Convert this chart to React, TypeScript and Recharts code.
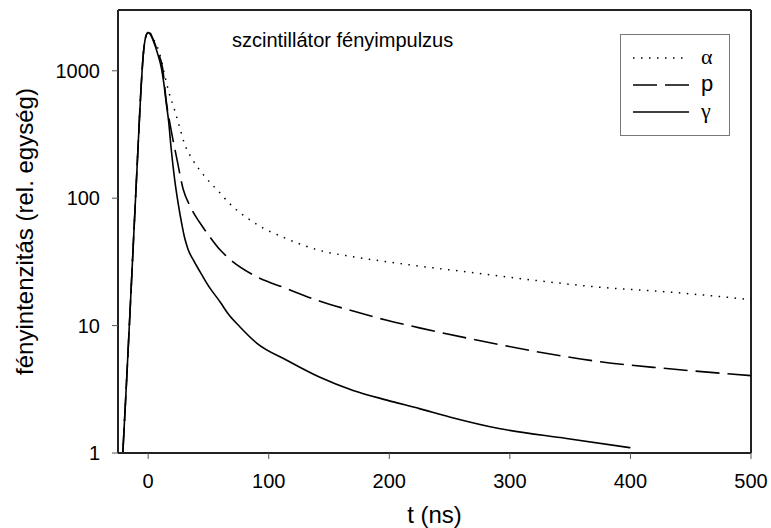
import React from "react";
import { LineChart, Line, XAxis, YAxis, ReferenceLine, Legend } from "recharts";

// shared rising edge (ns, rel. units)
const riseT = [-21, -18, -15, -12, -9, -6, -4, -2];
const riseI = [1, 3.5, 13, 50, 190, 700, 1350, 1850];

// decay parts
const alphaT = [0, 2, 4, 9, 14, 17, 22, 26, 30, 37, 47, 60, 66, 87, 115, 142, 170, 198, 225, 264, 320, 375, 430, 500];
const alphaI = [2000, 1950, 1800, 1415, 900, 690, 490, 365, 270, 200, 148, 109, 94, 65, 48, 39, 34.7, 31.7, 29.3, 26.4, 22.7, 20, 18.4, 16];

const protonT = [0, 2, 4, 8, 12, 15, 19, 24, 29, 35, 45, 51, 60, 65, 87, 115, 142, 170, 198, 225, 264, 320, 375, 430, 500];
const protonI = [2000, 1950, 1780, 1400, 1050, 580, 345, 200, 118, 86, 60, 50, 39, 35, 25, 19.5, 15.6, 13, 11, 9.6, 8, 6.3, 5.2, 4.6, 4.05];

const gammaT = [0, 2, 4, 8, 11, 13, 15, 17, 19, 22, 25, 28, 30, 33, 38, 43, 50, 60, 66, 76, 90, 115, 142, 170, 198, 225, 250, 292, 347, 400];
const gammaI = [2000, 1920, 1750, 1350, 1050, 800, 560, 400, 250, 140, 90, 62, 50, 40, 32, 26.5, 20.5, 15.2, 12.5, 9.8, 7.3, 5.35, 3.95, 3.1, 2.6, 2.23, 1.92, 1.55, 1.3, 1.1];

const xTicks = [0, 100, 200, 300, 400, 500];
const yTicks = [1, 10, 100, 1000];
const legendNames = ["α", "p", "γ"];

const build = (t: number[], v: number[]) => [
  ...riseT.map((x, i) => ({ t: x, v: riseI[i] })),
  ...t.map((x, i) => ({ t: x, v: v[i] })),
];

const series = [
  { key: "alpha", name: legendNames[0], data: build(alphaT, alphaI), dash: "1.5 6.5", width: 1.5, serif: true },
  { key: "proton", name: legendNames[1], data: build(protonT, protonI), dash: "24 8", width: 1.6, serif: false },
  { key: "gamma", name: legendNames[2], data: build(gammaT, gammaI), dash: undefined, width: 1.6, serif: true },
];

const SANS = '"Liberation Sans", Arial, sans-serif';
const SERIF = '"Liberation Serif", "Times New Roman", serif';

const LegendBox = () => (
  <div style={{ width: 110, height: 102, border: "1px solid #777", boxSizing: "border-box", background: "#fff" }}>
    <svg width={108} height={100}>
      {series.map((s, i) => {
        const y = 23 + i * 27;
        return (
          <g key={s.key}>
            <line x1={12} x2={68} y1={y} y2={y} stroke="#000" strokeWidth={s.width} strokeDasharray={s.dash} />
            <text x={80} y={y + 6} fontSize={22} fontFamily={s.serif ? SERIF : SANS} fill="#000">
              {s.name}
            </text>
          </g>
        );
      })}
    </svg>
  </div>
);

export default function App() {
  return (
    <div style={{ position: "absolute", left: 0, top: 0, width: 771, height: 528, background: "#fff", fontFamily: SANS }}>
      <LineChart width={771} height={528} margin={{ top: 10, right: 20, bottom: 0, left: 0 }}>
        <XAxis
          type="number"
          dataKey="t"
          domain={[-25, 500]}
          ticks={xTicks}
          allowDataOverflow
          height={75}
          tickSize={6}
          tickMargin={15}
          axisLine={{ stroke: "#222", strokeWidth: 2 }}
          tickLine={{ stroke: "#555" }}
          tick={{ fontSize: 20, fill: "#000", fontFamily: SANS }}
          label={() => (
            <text x={434.5} y={523} textAnchor="middle" fontSize={24} fontFamily={SANS} fill="#000">
              t (ns)
            </text>
          )}
        />
        <YAxis
          type="number"
          scale="log"
          domain={[1, 3000]}
          ticks={yTicks}
          allowDataOverflow
          width={118}
          tickSize={6}
          tickMargin={12}
          axisLine={{ stroke: "#222", strokeWidth: 2 }}
          tickLine={{ stroke: "#555" }}
          tick={{ fontSize: 20, fill: "#000", fontFamily: SANS }}
          label={() => (
            <text
              x={33}
              y={231.5}
              textAnchor="middle"
              fontSize={24}
              fontFamily={SANS}
              fill="#000"
              transform="rotate(-90 33 231.5)"
            >
              fényintenzitás (rel. egység)
            </text>
          )}
        />
        <ReferenceLine
          y={3000}
          stroke="#222"
          strokeWidth={2}
          label={() => (
            <text x={232} y={47} fontSize={20} fontFamily={SANS} fill="#000">
              szcintillátor fényimpulzus
            </text>
          )}
        />
        <ReferenceLine x={500} stroke="#222" strokeWidth={2} />
        <Legend
          layout="horizontal"
          verticalAlign="middle"
          align="center"
          wrapperStyle={{ left: 620, top: 34, width: 110, height: 102 }}
          content={() => <LegendBox />}
        />
        {series.map((s) => (
          <Line
            key={s.key}
            data={s.data}
            dataKey="v"
            name={s.name}
            type="monotone"
            stroke="#000"
            strokeWidth={s.width}
            strokeDasharray={s.dash}
            dot={false}
            activeDot={false}
            isAnimationActive={false}
          />
        ))}
      </LineChart>
    </div>
  );
}
